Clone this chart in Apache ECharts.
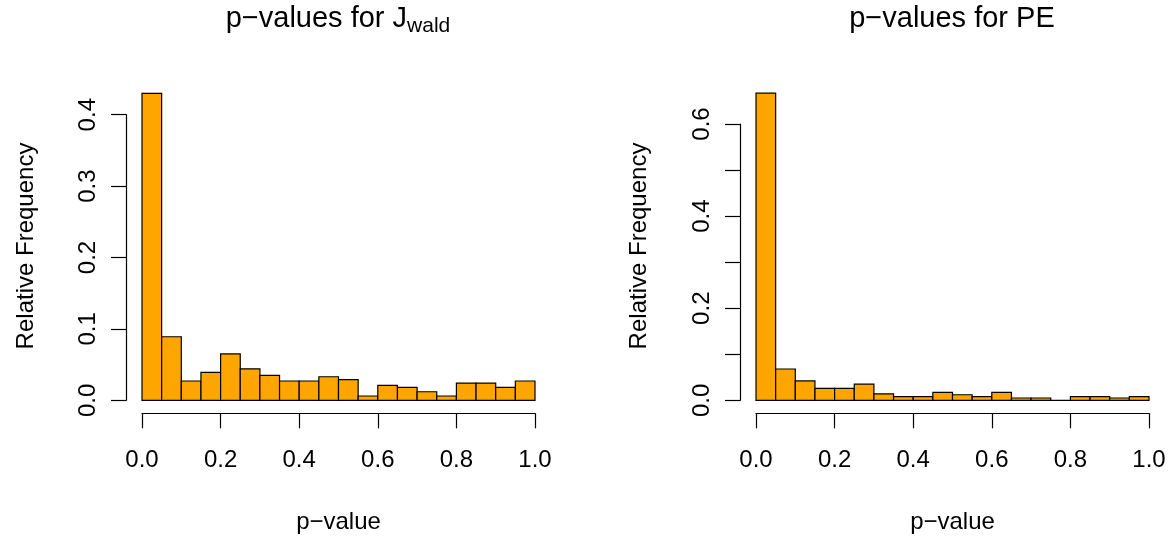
<!DOCTYPE html>
<html>
<head>
<meta charset="utf-8">
<script src="https://cdn.jsdelivr.net/npm/echarts@6/dist/echarts.min.js"></script>
<style>
  html, body { margin: 0; padding: 0; background: #fff; }
  #chart { width: 1173px; height: 536px; }
</style>
</head>
<body>
<div id="chart"></div>
<script>
// histogram bins (width 0.05) and relative frequencies
var binStarts = [0, 0.05, 0.1, 0.15, 0.2, 0.25, 0.3, 0.35, 0.4, 0.45,
                 0.5, 0.55, 0.6, 0.65, 0.7, 0.75, 0.8, 0.85, 0.9, 0.95];
var binWidth = 0.05;
var jwaldFreq = [0.430, 0.089, 0.027, 0.039, 0.065, 0.044, 0.035, 0.027, 0.027, 0.033,
                 0.029, 0.006, 0.021, 0.018, 0.012, 0.006, 0.024, 0.024, 0.018, 0.027];
var peFreq = [0.667, 0.068, 0.042, 0.026, 0.026, 0.035, 0.014, 0.008, 0.008, 0.017,
              0.012, 0.008, 0.017, 0.005, 0.005, 0.000, 0.008, 0.008, 0.005, 0.008];

var FONT = 'Liberation Sans, Arial, sans-serif';

function toBins(freq) {
    return binStarts.map(function (s, i) {
        return [s, s + binWidth, freq[i]];
    });
}

// draws one histogram bar from [x0, x1, y]
function renderBar(params, api) {
    var p0 = api.coord([api.value(0), api.value(2)]);
    var p1 = api.coord([api.value(1), 0]);
    return {
        type: 'rect',
        shape: { x: p0[0], y: p0[1], width: p1[0] - p0[0], height: p1[1] - p0[1] },
        style: { fill: '#FFA500', stroke: '#000', lineWidth: 1.2 }
    };
}

function makeX(idx) {
    return {
        gridIndex: idx, type: 'value', min: 0, max: 1, interval: 0.2,
        offset: 13,
        axisLine: { show: true, onZero: false, lineStyle: { color: '#000', width: 1.2 } },
        axisTick: { show: true, length: 15, lineStyle: { color: '#000', width: 1.2 } },
        axisLabel: { margin: 35, color: '#000', fontSize: 24, fontFamily: FONT,
                     showMaxLabel: true, showMinLabel: true,
                     formatter: function (v) { return v.toFixed(1); } },
        splitLine: { show: false },
        name: 'p\u2212value', nameLocation: 'middle', nameGap: 97,
        nameTextStyle: { color: '#000', fontSize: 24, fontFamily: FONT }
    };
}

function makeY(idx, max, labelStep) {
    return {
        gridIndex: idx, type: 'value', min: 0, max: max, interval: 0.1,
        offset: 16,
        axisLine: { show: true, onZero: false, lineStyle: { color: '#000', width: 1.2 } },
        axisTick: { show: true, length: 15, lineStyle: { color: '#000', width: 1.2 } },
        axisLabel: { margin: 26, rotate: 90, color: '#000', fontSize: 24, fontFamily: FONT,
                     showMaxLabel: true, showMinLabel: true,
                     formatter: function (v) {
                         var k = Math.round(v * 10);
                         return k % labelStep === 0 ? v.toFixed(1) : '';
                     } },
        splitLine: { show: false }
    };
}

var myChart = echarts.init(document.getElementById('chart'));
myChart.setOption({
    animation: false,
    backgroundColor: '#fff',
    title: [
        {
            text: '{a|p\u2212values for J}{b|wald}',
            left: 338, top: 1, textAlign: 'center', padding: 0,
            textStyle: {
                fontWeight: 'normal',
                rich: {
                    a: { fontSize: 29, fontFamily: FONT, fontWeight: 'normal', color: '#000', lineHeight: 36 },
                    b: { fontSize: 21, fontFamily: FONT, fontWeight: 'normal', color: '#000', lineHeight: 36,
                         padding: [14, 0, 0, 0] }
                }
            }
        },
        {
            text: 'p\u2212values for PE',
            left: 952, top: 1, textAlign: 'center', padding: 0,
            textStyle: { fontSize: 29, fontFamily: FONT, color: '#000', fontWeight: 'normal', lineHeight: 36 }
        }
    ],
    graphic: [
        { type: 'text', x: 26, y: 246, rotation: Math.PI / 2,
          style: { text: 'Relative Frequency', fontSize: 24, fontFamily: FONT, fill: '#000',
                   align: 'center', verticalAlign: 'middle' } },
        { type: 'text', x: 639, y: 246, rotation: Math.PI / 2,
          style: { text: 'Relative Frequency', fontSize: 24, fontFamily: FONT, fill: '#000',
                   align: 'center', verticalAlign: 'middle' } }
    ],
    grid: [
        { left: 142, top: 114.7, width: 393, height: 285.6, outerBoundsMode: 'none', containLabel: false },
        { left: 756, top: 124, width: 393, height: 276.3, outerBoundsMode: 'none', containLabel: false }
    ],
    xAxis: [makeX(0), makeX(1)],
    yAxis: [makeY(0, 0.4, 1), makeY(1, 0.6, 2)],
    series: [
        { type: 'custom', xAxisIndex: 0, yAxisIndex: 0, renderItem: renderBar,
          encode: { x: [0, 1], y: 2 }, data: toBins(jwaldFreq), clip: false },
        { type: 'custom', xAxisIndex: 1, yAxisIndex: 1, renderItem: renderBar,
          encode: { x: [0, 1], y: 2 }, data: toBins(peFreq), clip: false }
    ]
});
</script>
</body>
</html>
